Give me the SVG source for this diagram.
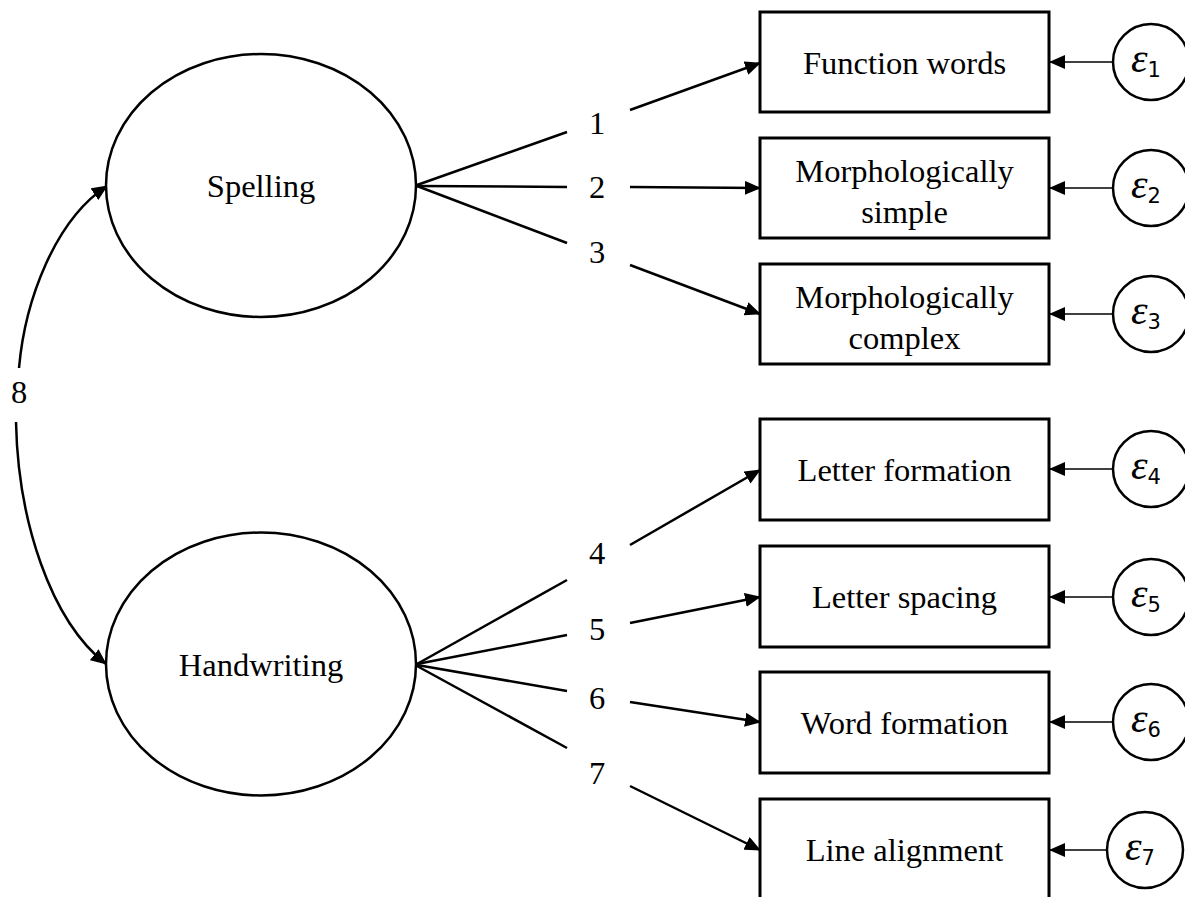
<svg xmlns="http://www.w3.org/2000/svg" width="1185" height="897" viewBox="0 0 1185 897">
<style>
.t{font-family:"Liberation Serif","Times New Roman",serif;font-size:32.5px;fill:#000;text-anchor:middle}
.e{font-family:"Liberation Serif","Times New Roman",serif;font-style:italic;font-size:42px;fill:#000}
.s{font-family:"DejaVu Sans","Liberation Sans",sans-serif;font-style:normal;font-size:21px}
.box{fill:#fff;stroke:#000;stroke-width:3}
.lat{fill:#fff;stroke:#000;stroke-width:2.5}
.err{fill:#fff;stroke:#000;stroke-width:2.5}
.ln{fill:none;stroke:#000;stroke-width:2.5}
.th{fill:none;stroke:#000;stroke-width:1.3}
</style>
<defs>
<marker id="ah" markerUnits="userSpaceOnUse" markerWidth="16" markerHeight="14" refX="15" refY="7" orient="auto">
<path d="M0,0 L16,7 L0,14 Z" fill="#000"/>
</marker>
</defs>
<g id="connectors">
<path class="ln" d="M417,185 L567,132"/>
<path class="ln" d="M630,110 L760,63" marker-end="url(#ah)"/>
<path class="ln" d="M417,186 L567,187"/>
<path class="ln" d="M630,187 L760,188" marker-end="url(#ah)"/>
<path class="ln" d="M417,186 L567,243"/>
<path class="ln" d="M630,265 L760,314" marker-end="url(#ah)"/>
<path class="ln" d="M417,664 L567,580"/>
<path class="ln" d="M630,545 L760,470" marker-end="url(#ah)"/>
<path class="ln" d="M417,664 L567,635"/>
<path class="ln" d="M630,623 L760,597" marker-end="url(#ah)"/>
<path class="ln" d="M417,665 L567,691"/>
<path class="ln" d="M630,702 L760,722" marker-end="url(#ah)"/>
<path class="ln" d="M417,666 L567,748"/>
<path class="ln" d="M630,786 L760,850" marker-end="url(#ah)"/>
<path class="ln" d="M19,368 C25,300 55,220 107,186" marker-end="url(#ah)"/>
<path class="ln" d="M16,422 C18,520 50,620 106,664" marker-end="url(#ah)"/>
<path class="th" d="M1113,62 L1050,62" marker-end="url(#ah)"/>
<path class="th" d="M1113,188 L1050,188" marker-end="url(#ah)"/>
<path class="th" d="M1113,314 L1050,314" marker-end="url(#ah)"/>
<path class="th" d="M1113,469 L1050,469" marker-end="url(#ah)"/>
<path class="th" d="M1113,597 L1050,597" marker-end="url(#ah)"/>
<path class="th" d="M1113,722 L1050,722" marker-end="url(#ah)"/>
<path class="th" d="M1107,850 L1050,850" marker-end="url(#ah)"/>
<text class="t" x="597" y="134">1</text>
<text class="t" x="597" y="198">2</text>
<text class="t" x="597" y="263">3</text>
<text class="t" x="597" y="564">4</text>
<text class="t" x="597" y="640">5</text>
<text class="t" x="597" y="709">6</text>
<text class="t" x="597" y="784">7</text>
<text class="t" x="19" y="403">8</text>
</g>
<g id="spelling"><ellipse class="lat" cx="261" cy="185.5" rx="155" ry="131.5"/><text class="t" x="261" y="197">Spelling</text></g>
<g id="handwriting"><ellipse class="lat" cx="261" cy="664" rx="155" ry="131.5"/><text class="t" x="261" y="676">Handwriting</text></g>
<g id="function-words"><rect class="box" x="760" y="12" width="289" height="100"/><text class="t" x="904.5" y="74">Function words</text></g>
<g id="morph-simple"><rect class="box" x="760" y="138" width="289" height="100"/><text class="t" x="904.5" y="182">Morphologically</text><text class="t" x="904.5" y="223">simple</text></g>
<g id="morph-complex"><rect class="box" x="760" y="264" width="289" height="100"/><text class="t" x="904.5" y="308">Morphologically</text><text class="t" x="904.5" y="349">complex</text></g>
<g id="letter-formation"><rect class="box" x="760" y="419" width="289" height="101"/><text class="t" x="904.5" y="481">Letter formation</text></g>
<g id="letter-spacing"><rect class="box" x="760" y="546" width="289" height="101"/><text class="t" x="904.5" y="608">Letter spacing</text></g>
<g id="word-formation"><rect class="box" x="760" y="672" width="289" height="101"/><text class="t" x="904.5" y="734">Word formation</text></g>
<g id="line-alignment"><rect class="box" x="760" y="799" width="289" height="110"/><text class="t" x="904.5" y="861">Line alignment</text></g>
<g id="e1"><circle class="err" cx="1151" cy="62" r="38"/><text class="e" x="1131" y="72">ε<tspan class="s" dy="5">1</tspan></text></g>
<g id="e2"><circle class="err" cx="1151" cy="188" r="38"/><text class="e" x="1131" y="198">ε<tspan class="s" dy="5">2</tspan></text></g>
<g id="e3"><circle class="err" cx="1151" cy="314" r="38"/><text class="e" x="1131" y="324">ε<tspan class="s" dy="5">3</tspan></text></g>
<g id="e4"><circle class="err" cx="1151" cy="469" r="38"/><text class="e" x="1131" y="479">ε<tspan class="s" dy="5">4</tspan></text></g>
<g id="e5"><circle class="err" cx="1151" cy="597" r="38"/><text class="e" x="1131" y="607">ε<tspan class="s" dy="5">5</tspan></text></g>
<g id="e6"><circle class="err" cx="1151" cy="722" r="38"/><text class="e" x="1131" y="732">ε<tspan class="s" dy="5">6</tspan></text></g>
<g id="e7"><circle class="err" cx="1145" cy="850" r="38"/><text class="e" x="1125" y="860">ε<tspan class="s" dy="5">7</tspan></text></g>
</svg>
